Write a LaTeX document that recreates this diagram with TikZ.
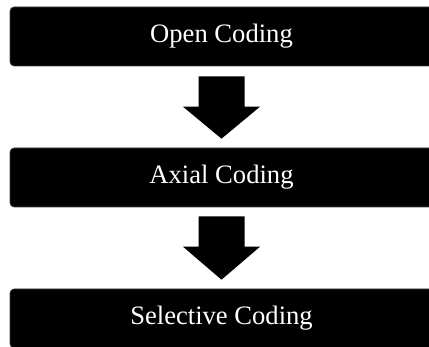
\documentclass[tikz,border=0pt]{standalone}
\usepackage{fontspec}
\setmainfont{Liberation Serif}
\usetikzlibrary{calc}
\tikzset{
  stagebox/.style={fill=black, draw=black!75, line width=0.6pt, rounded corners=4pt,
    minimum width=423pt, minimum height=59pt, inner sep=0pt, text=white,
    font=\fontsize{26.6}{30}\selectfont},
  flowarrow/.style={fill=black}
}
\begin{document}
\begin{tikzpicture}[x=1pt,y=-1pt]
\useasboundingbox (0,0) rectangle (429,347);
\fill[white] (0,0) rectangle (429,347);
\clip (0,0) rectangle (429,347);
\node[stagebox] (open) at (221.5,36.5) {Open Coding};
\node[stagebox] (axial) at (221.5,177.5) {Axial Coding};
\node[stagebox] (sel) at (221.5,318.5) {Selective Coding};
\fill[flowarrow] ($(open.south)+(-23,10)$) -- ($(open.south)+(23,10)$)
  -- ($(axial.north)+(23,-41)$) -- ($(axial.north)+(38.5,-41)$)
  -- ($(axial.north)+(0,-9)$) -- ($(axial.north)+(-38.5,-41)$)
  -- ($(axial.north)+(-23,-41)$) -- cycle;
\fill[flowarrow] ($(axial.south)+(-23,9)$) -- ($(axial.south)+(23,9)$)
  -- ($(sel.north)+(23,-42)$) -- ($(sel.north)+(38.5,-42)$)
  -- ($(sel.north)+(0,-9)$) -- ($(sel.north)+(-38.5,-42)$)
  -- ($(sel.north)+(-23,-42)$) -- cycle;
\end{tikzpicture}
\end{document}
